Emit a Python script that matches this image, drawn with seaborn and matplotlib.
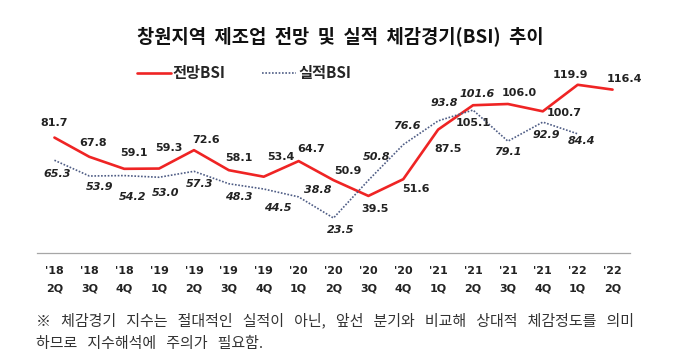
import numpy as np
import pandas as pd
import matplotlib
matplotlib.use("Agg")
import matplotlib.pyplot as plt
import seaborn as sns

# Data
QUARTERS = ["'18\n2Q", "'18\n3Q", "'18\n4Q", "'19\n1Q", "'19\n2Q", "'19\n3Q", "'19\n4Q",
            "'20\n1Q", "'20\n2Q", "'20\n3Q", "'20\n4Q", "'21\n1Q", "'21\n2Q", "'21\n3Q",
            "'21\n4Q", "'22\n1Q", "'22\n2Q"]
OUTLOOK = [81.7, 67.8, 59.1, 59.3, 72.6, 58.1, 53.4, 64.7, 50.9, 39.5, 51.6,
           87.5, 105.1, 106.0, 100.7, 119.9, 116.4]
ACTUAL = [65.3, 53.9, 54.2, 53.0, 57.3, 48.3, 44.5, 38.8, 23.5, 50.8, 76.6,
          93.8, 101.6, 79.1, 92.9, 84.4, np.nan]

TITLE = "  ".join(["창원지역", "제조업", "전망", "및", "실적", "체감경기(BSI)", "추이"])
NOTE1 = "   ".join(["※", "체감경기", "지수는", "절대적인", "실적이", "아닌,", "앞선", "분기와",
                     "비교해", "상대적", "체감정도를", "의미"])
NOTE2 = "   ".join(["하므로", "지수해석에", "주의가", "필요함."])

# label offsets in pixels (dx, dy up) -- placement only
RED_OFF = [(0, 15), (4, 14), (10, 16), (10, 21), (12, 10), (10, 12), (17, 20), (13, 12), (14, 9),
           (7, -13), (13, -10), (10, -19), (0, -18), (11, 11), (21, -2), (-7, 10), (12, 11)]
BLUE_OFF = [(3, -14), (10, -11), (8, -21), (7, -16), (6, -13), (10, -13), (14, -19), (19, 7),
            (7, -12), (8, 23), (4, 19), (6, 18), (4, 16), (0, -11), (4, -13), (4, -7)]

RED = '#ef2424'
BLUE = '#4f5d85'
KR = ['Noto Sans CJK KR', 'DejaVu Sans']

sns.set_style('white')
plt.rcParams['font.family'] = ['DejaVu Sans', 'Noto Sans CJK KR']

df = pd.DataFrame({'pos': np.arange(len(QUARTERS)), '전망BSI': OUTLOOK, '실적BSI': ACTUAL})

fig = plt.figure(figsize=(6.8, 3.63), dpi=100)
ax = fig.add_axes([37 / 680, 110 / 363, 593 / 680, 196 / 363])

sns.lineplot(data=df, x='pos', y='전망BSI', ax=ax, color=RED, linewidth=1.9, label='전망BSI')
sns.lineplot(data=df, x='pos', y='실적BSI', ax=ax, color=BLUE, linewidth=1.2,
             linestyle=(0, (1, 1)), label='실적BSI')

for i, v in enumerate(OUTLOOK):
    dx, dy = RED_OFF[i]
    ax.annotate(f'{v:.1f}', (i, v), xytext=(dx, dy), textcoords='offset pixels',
                ha='center', va='center', fontsize=8, fontweight='bold', color='#222222')
for i, v in enumerate(ACTUAL):
    if np.isnan(v):
        continue
    dx, dy = BLUE_OFF[i]
    ax.annotate(f'{v:.1f}', (i, v), xytext=(dx, dy), textcoords='offset pixels',
                ha='center', va='center', fontsize=8, fontweight='bold', fontstyle='italic',
                color='#222222')

ax.set_xlim(-0.5, len(QUARTERS) - 0.5)
ax.set_ylim(-1.8, 140)
ax.set_xticks(df['pos'])
ax.set_xticklabels(QUARTERS, fontsize=8, fontweight='bold', linespacing=2.0, color='#222222')
ax.set_xticks(np.arange(len(QUARTERS) + 1) - 0.5, minor=True)
ax.tick_params(axis='x', which='major', length=0, pad=9)
ax.tick_params(axis='x', which='minor', length=4, width=0.8, color='#a6a6a6', direction='out')
ax.set_yticks([])
ax.set_xlabel('')
ax.set_ylabel('')
for s in ['left', 'right', 'top']:
    ax.spines[s].set_visible(False)
ax.spines['bottom'].set_color('#a6a6a6')
ax.spines['bottom'].set_linewidth(0.9)

handles, labels = ax.get_legend_handles_labels()
ax.get_legend().remove()
fig.legend(handles, labels, loc='center left', bbox_to_anchor=(137 / 680, 1 - 73 / 363),
           ncol=2, frameon=False, borderpad=0, borderaxespad=0, handlelength=2.2,
           handletextpad=0.15, columnspacing=2.4, prop={'family': KR, 'weight': 'bold', 'size': 11})

fig.text(0.5, 1 - 36 / 363, TITLE, ha='center', va='center', fontsize=13.5,
         fontweight='bold', family=KR, color='#111111')
fig.text(36 / 680, 1 - 320 / 363, NOTE1, ha='left', va='center', fontsize=10.8,
         family=KR, color='#333333')
fig.text(36 / 680, 1 - 344 / 363, NOTE2, ha='left', va='center', fontsize=10.8,
         family=KR, color='#333333')

fig.savefig('out.png', dpi=100)
